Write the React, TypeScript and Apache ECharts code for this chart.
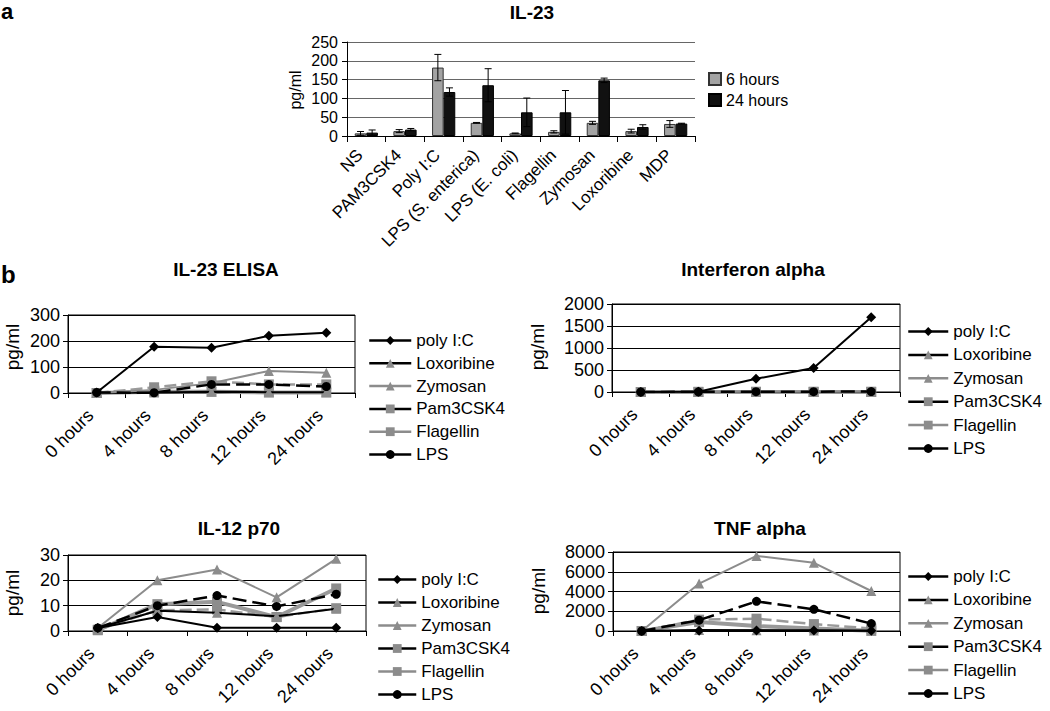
import React, { useEffect, useRef } from "react";
import * as echarts from "echarts";

const FONT = '"Liberation Sans", Arial, Helvetica, sans-serif';

// ---- Panel a: IL-23 bar chart ----
const stimuli = ["NS", "PAM3CSK4", "Poly I:C", "LPS (S. enterica)", "LPS (E. coli)", "Flagellin", "Zymosan", "Loxoribine", "MDP"];
const il23h6 = [7, 13, 182, 35, 7, 11, 35, 13, 32];
const il23h6Err = [5, 4, 35, 1, 1, 3, 4, 5, 9];
const il23h24 = [9, 17, 117, 135, 63, 63, 148, 24, 33];
const il23h24Err = [7, 3, 11, 44, 38, 58, 6, 6, 1];

// ---- Panel b: time courses ----
const timePoints = ["0 hours", "4 hours", "8 hours", "12 hours", "24 hours"];
const stimNames = ["poly I:C", "Loxoribine", "Zymosan", "Pam3CSK4", "Flagellin", "LPS"];

const elisaPoly = [2, 178, 174, 220, 232];
const elisaLox = [0, 2, 5, 3, 3];
const elisaZym = [0, 12, 38, 85, 78];
const elisaPam = [0, 22, 45, 33, 33];
const elisaFlag = [0, 5, 5, 2, 2];
const elisaLps = [2, 1, 33, 33, 25];

const ifnPoly = [0, 5, 300, 545, 1700];
const ifnLox = [0, 0, 2, 2, 2];
const ifnZym = [0, 2, 5, 5, 5];
const ifnPam = [0, 3, 5, 5, 5];
const ifnFlag = [0, 2, 2, 2, 2];
const ifnLps = [0, 5, 8, 8, 10];

const il12Poly = [1.2, 5.5, 1.3, 1.3, 1.3];
const il12Lox = [1.2, 8, 7.2, 5.8, 8.8];
const il12Zym = [1.2, 20, 24.3, 13.3, 28.5];
const il12Pam = [0.5, 8.2, 8.5, 5.5, 9];
const il12Flag = [0.3, 10.6, 11.5, 5.5, 16.8];
const il12Lps = [1.2, 10, 14, 9.7, 14.5];

const tnfPoly = [0, 30, 50, 40, 20];
const tnfLox = [0, 100, 80, 60, 20];
const tnfZym = [0, 4800, 7600, 6900, 4050];
const tnfPam = [0, 1150, 1250, 700, 250];
const tnfFlag = [0, 900, 500, 250, 30];
const tnfLps = [0, 1100, 3000, 2200, 750];

const panels = [
  { title: "IL-23 ELISA", max: 300, interval: 100, values: [elisaPoly, elisaLox, elisaZym, elisaPam, elisaFlag, elisaLps] },
  { title: "Interferon alpha", max: 2000, interval: 500, values: [ifnPoly, ifnLox, ifnZym, ifnPam, ifnFlag, ifnLps] },
  { title: "IL-12 p70", max: 30, interval: 10, values: [il12Poly, il12Lox, il12Zym, il12Pam, il12Flag, il12Lps] },
  { title: "TNF alpha", max: 8000, interval: 2000, values: [tnfPoly, tnfLox, tnfZym, tnfPam, tnfFlag, tnfLps] },
];

const GRAY = "#8c8c8c";
const seriesStyle: Record<string, any> = {
  "poly I:C": { line: "#000", width: 2, type: "solid", symbol: "diamond", sym: "#000", size: [10, 10], z: 8 },
  Loxoribine: { line: "#000", width: 2, type: "solid", symbol: "triangle", sym: GRAY, size: 10, z: 4 },
  Zymosan: { line: GRAY, width: 2, type: "solid", symbol: "triangle", sym: GRAY, size: 10, z: 5 },
  Pam3CSK4: { line: "#9a9a9a", width: 2.5, type: [12, 5], symbol: "rect", sym: GRAY, size: 10, z: 3 },
  Flagellin: { line: "#999", width: 4, type: "solid", symbol: "rect", sym: GRAY, size: 10, z: 2 },
  LPS: { line: "#000", width: 2.5, type: [14, 6], symbol: "circle", sym: "#000", size: 9, z: 7 },
};
const legendLine: Record<string, string> = {
  "poly I:C": "#000", Loxoribine: "#000", Zymosan: GRAY, Pam3CSK4: "#000", Flagellin: GRAY, LPS: "#000",
};

const gridBoxes = [
  { left: 68, top: 315, width: 287, height: 78 },
  { left: 612, top: 304, width: 288, height: 88 },
  { left: 68, top: 555, width: 298, height: 76 },
  { left: 613, top: 552, width: 287, height: 79 },
];
const legendPos = [
  { left: 368, top: 332, itemWidth: 42, itemGap: 5.8 },
  { left: 907, top: 323, itemWidth: 40, itemGap: 6.4 },
  { left: 377, top: 571, itemWidth: 38, itemGap: 6.0 },
  { left: 907, top: 568, itemWidth: 40, itemGap: 6.4 },
];
const titlePos = [
  [226, 269], [753, 269], [239, 528], [760, 528],
];
const yNamePos = [
  [12, 347], [537, 347], [12, 593], [538, 591],
];

function buildOption() {
  const grid: any[] = [{ left: 347, top: 42, width: 348, height: 94 }];
  const xAxis: any[] = [
    {
      type: "category", gridIndex: 0, data: stimuli, boundaryGap: true,
      axisLine: { lineStyle: { color: "#000", width: 1 } },
      axisTick: { show: true, alignWithLabel: false, interval: 0, length: 6, lineStyle: { color: "#000" } },
      axisLabel: { rotate: 45, interval: 0, fontSize: 17, color: "#000", margin: 10, padding: [0, 9, 0, 0], fontFamily: FONT },
    },
  ];
  const yAxis: any[] = [
    {
      type: "value", gridIndex: 0, min: 0, max: 250, interval: 50,
      axisLine: { show: true, lineStyle: { color: "#000" } },
      axisTick: { show: true, length: 5, lineStyle: { color: "#000" } },
      axisLabel: { fontSize: 16, color: "#000", margin: 9, fontFamily: FONT, formatter: (v: number) => String(v) },
      splitLine: { lineStyle: { color: "#666", width: 1 } },
    },
  ];
  const series: any[] = [
    {
      type: "bar", name: "6 hours", xAxisIndex: 0, yAxisIndex: 0, data: il23h6,
      barWidth: "30%", barGap: "0%",
      itemStyle: { color: "#a3a3a3", borderColor: "#333", borderWidth: 1 },
    },
    {
      type: "bar", name: "24 hours", xAxisIndex: 0, yAxisIndex: 0, data: il23h24,
      barWidth: "30%", barGap: "0%",
      itemStyle: { color: "#111", borderColor: "#000", borderWidth: 1 },
    },
    {
      type: "custom", xAxisIndex: 0, yAxisIndex: 0, z: 10, silent: true,
      data: [
        ...il23h6.map((v, i) => [i, v, il23h6Err[i], -1]),
        ...il23h24.map((v, i) => [i, v, il23h24Err[i], 1]),
      ],
      encode: { x: 0, y: 1 },
      renderItem: (params: any, api: any) => {
        const idx = api.value(0);
        const v = api.value(1);
        const e = api.value(2);
        const side = api.value(3);
        const band = api.size([1, 0])[0];
        const bw = band * 0.3;
        const c = api.coord([idx, v]);
        const cx = c[0] + (side * bw) / 2;
        const yTop = api.coord([idx, v + e])[1];
        const yBot = api.coord([idx, Math.max(0, v - e)])[1];
        const cap = 3.5;
        const st = { stroke: "#000", lineWidth: 1 };
        return {
          type: "group",
          children: [
            { type: "line", shape: { x1: cx, y1: yTop, x2: cx, y2: yBot }, style: st },
            { type: "line", shape: { x1: cx - cap, y1: yTop, x2: cx + cap, y2: yTop }, style: st },
            { type: "line", shape: { x1: cx - cap, y1: yBot, x2: cx + cap, y2: yBot }, style: st },
          ],
        };
      },
    },
  ];
  const legend: any[] = [
    {
      left: 708, top: 71, padding: 0, orient: "vertical", itemWidth: 12, itemHeight: 12, itemGap: 5,
      icon: "rect", data: ["6 hours", "24 hours"],
      textStyle: { fontSize: 16, color: "#000", fontFamily: FONT },
    },
  ];
  const graphic: any[] = [
    { type: "text", x: 1, y: 11, style: { text: "a", font: `bold 22px ${FONT}`, fill: "#000", align: "left", verticalAlign: "middle" } },
    { type: "text", x: 1, y: 274, style: { text: "b", font: `bold 24px ${FONT}`, fill: "#000", align: "left", verticalAlign: "middle" } },
    { type: "text", x: 532, y: 12, style: { text: "IL-23", font: `bold 19px ${FONT}`, fill: "#000", align: "center", verticalAlign: "middle" } },
    { type: "text", x: 295, y: 90, rotation: Math.PI / 2, style: { text: "pg/ml", font: `16px ${FONT}`, fill: "#000", align: "center", verticalAlign: "middle" } },
  ];

  panels.forEach((p, k) => {
    const gi = k + 1;
    grid.push({ ...gridBoxes[k], show: true, borderColor: "#000", borderWidth: 1, backgroundColor: "transparent" });
    xAxis.push({
      type: "category", gridIndex: gi, data: timePoints, boundaryGap: true,
      axisLine: { lineStyle: { color: "#000", width: 1 } },
      axisTick: { show: true, alignWithLabel: false, interval: 0, length: 5, lineStyle: { color: "#000" } },
      axisLabel: { rotate: 45, interval: 0, fontSize: 18, color: "#000", margin: 13, padding: [0, 9, 0, 0], fontFamily: FONT },
    });
    yAxis.push({
      type: "value", gridIndex: gi, min: 0, max: p.max, interval: p.interval,
      axisLine: { show: true, lineStyle: { color: "#000" } },
      axisTick: { show: true, length: 5, lineStyle: { color: "#000" } },
      axisLabel: { fontSize: 18, color: "#000", margin: 8, fontFamily: FONT, formatter: (v: number) => String(v) },
      splitLine: { lineStyle: { color: "#000", width: 1 } },
    });
    stimNames.forEach((name, j) => {
      const s = seriesStyle[name];
      series.push({
        type: "line", name, xAxisIndex: gi, yAxisIndex: gi, data: p.values[j],
        symbol: s.symbol, symbolSize: s.size, showSymbol: true, z: s.z,
        lineStyle: { color: s.line, width: s.width, type: s.type },
        itemStyle: { color: s.sym, borderWidth: 0 },
        emphasis: { disabled: true },
      });
    });
    legend.push({
      left: legendPos[k].left, top: legendPos[k].top, padding: 0, orient: "vertical",
      itemWidth: legendPos[k].itemWidth, itemHeight: 11, itemGap: legendPos[k].itemGap,
      data: stimNames.map((n) => ({ name: n, lineStyle: { color: legendLine[n], type: "solid", width: 2.5 } })),
      textStyle: { fontSize: 17, color: "#000", fontFamily: FONT },
    });
    graphic.push({
      type: "text", x: titlePos[k][0], y: titlePos[k][1],
      style: { text: p.title, font: `bold 19px ${FONT}`, fill: "#000", align: "center", verticalAlign: "middle" },
    });
    graphic.push({
      type: "text", x: yNamePos[k][0], y: yNamePos[k][1], rotation: Math.PI / 2,
      style: { text: "pg/ml", font: `19px ${FONT}`, fill: "#000", align: "center", verticalAlign: "middle" },
    });
  });

  return {
    animation: false,
    backgroundColor: "#fff",
    textStyle: { fontFamily: FONT, color: "#000" },
    grid, xAxis, yAxis, series, legend, graphic,
  };
}

export default function App() {
  const ref = useRef<HTMLDivElement>(null);
  useEffect(() => {
    if (!ref.current) return;
    const chart = echarts.init(ref.current, undefined, { renderer: "svg" });
    chart.setOption(buildOption() as any);
    return () => chart.dispose();
  }, []);
  return <div ref={ref} style={{ position: "absolute", left: 0, top: 0, width: 1050, height: 711 }} />;
}
